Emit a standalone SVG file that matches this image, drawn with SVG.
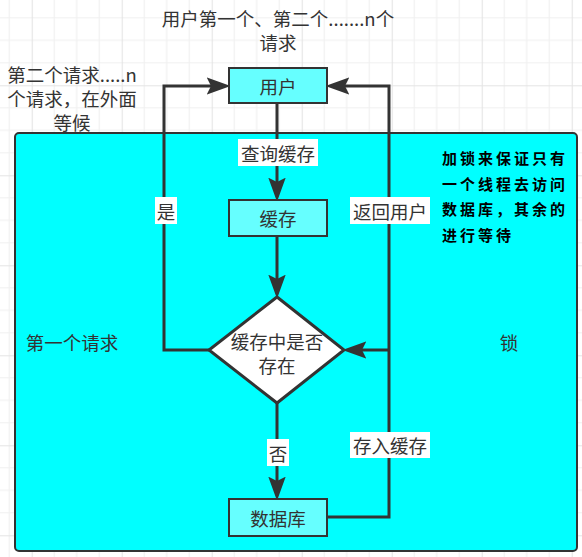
<svg xmlns="http://www.w3.org/2000/svg" width="582" height="557" viewBox="0 0 582 557">
<defs>
<pattern id="grid" x="31.7" y="85.3" width="90" height="90" patternUnits="userSpaceOnUse">
<path d="M22.5,0V90M45,0V90M67.5,0V90M0,22.5H90M0,45H90M0,67.5H90" stroke="#f0f0f0" stroke-width="1.2" fill="none"/>
<path d="M0.5,0V90M0,0.5H90" stroke="#e4e4e4" stroke-width="1.2" fill="none"/>
</pattern>
<marker id="arr" markerUnits="userSpaceOnUse" markerWidth="24" markerHeight="18" viewBox="0 0 22 16" refX="4" refY="8" orient="auto">
<path d="M0,0 L22,8 L0,16 L4,8 Z" fill="#333333"/>
</marker>
</defs>
<style>
.t{font-family:"Noto Sans CJK SC","Liberation Sans",sans-serif;font-size:18.5px;fill:#333333;text-anchor:middle;dominant-baseline:central}
.box{fill:#66ffff;stroke:#333333;stroke-width:2}
.c{fill:none;stroke:#333333;stroke-width:3;marker-end:url(#arr)}
.lb{fill:#ffffff}
.bold{font-family:"Noto Sans CJK SC",serif;font-size:15px;font-weight:bold;fill:#000000;letter-spacing:3px}
</style>
<rect width="582" height="557" fill="#ffffff"/>
<rect width="582" height="557" fill="url(#grid)"/>

<g id="lock-area">
<rect x="15" y="133" width="562" height="418" rx="4" fill="#00ffff" stroke="#333333" stroke-width="2"/>
</g>

<g id="title-text">
<text class="t" x="278" y="18">用户第一个、第二个.......n个</text>
<text class="t" x="278" y="42">请求</text>
</g>
<g id="waiting-text">
<text class="t" x="72" y="74">第二个请求.....n</text>
<text class="t" x="72" y="98">个请求，在外面</text>
<text class="t" x="72" y="122">等候</text>
</g>
<g id="first-request-text"><text class="t" x="72" y="342">第一个请求</text></g>
<g id="lock-text"><text class="t" x="509" y="342">锁</text></g>
<g id="note-text">
<text class="bold" x="442" y="164">加锁来保证只有</text>
<text class="bold" x="442" y="190">一个线程去访问</text>
<text class="bold" x="442" y="215">数据库，其余的</text>
<text class="bold" x="442" y="241">进行等待</text>
</g>

<g id="connectors">
<path class="c" d="M277,103 L277,182"/>
<path class="c" d="M277,236 L277,279"/>
<path class="c" d="M277,403 L277,481"/>
<path class="c" d="M209,350 L164,350 L164,86 L211,86"/>
<path class="c" d="M327,517 L389,517 L389,86 L345,86"/>
<path class="c" d="M389,350 L362,350"/>
<rect class="lb" x="238" y="139" width="80" height="27"/>
<text class="t" x="278" y="153">查询缓存</text>
<rect class="lb" x="350" y="197" width="80" height="27"/>
<text class="t" x="390" y="211">返回用户</text>
<rect class="lb" x="155" y="197" width="22" height="27"/>
<text class="t" x="166" y="211">是</text>
<rect class="lb" x="350" y="432" width="80" height="26"/>
<text class="t" x="390" y="445">存入缓存</text>
<rect class="lb" x="267" y="439" width="22" height="27"/>
<text class="t" x="278" y="453">否</text>
</g>

<g id="user">
<rect class="box" x="229" y="68" width="98" height="35"/>
<text class="t" x="278" y="86">用户</text>
</g>
<g id="cache">
<rect class="box" x="229" y="200" width="98" height="36"/>
<text class="t" x="278" y="218">缓存</text>
</g>
<g id="decision">
<polygon points="277,297 344,350 277,403 209,350" fill="#ffffff" stroke="#333333" stroke-width="3"/>
<text class="t" x="277" y="341">缓存中是否</text>
<text class="t" x="277" y="365">存在</text>
</g>
<g id="database">
<rect class="box" x="229" y="499" width="98" height="37"/>
<text class="t" x="278" y="518">数据库</text>
</g>
</svg>
